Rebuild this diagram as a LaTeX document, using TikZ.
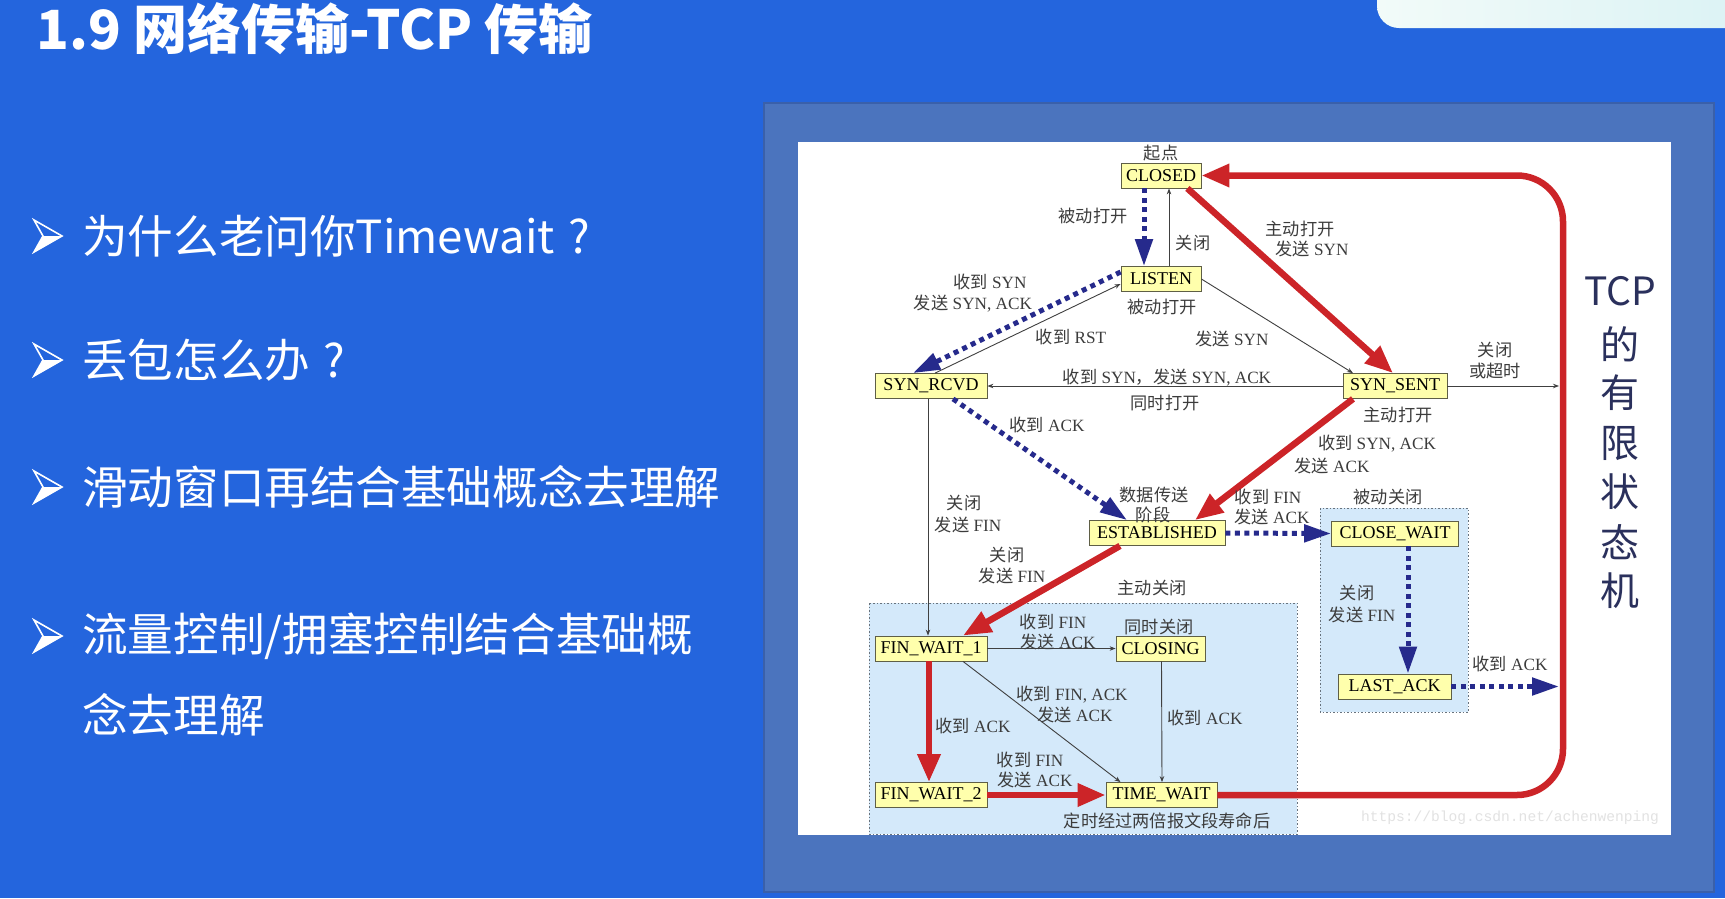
\documentclass[tikz,border=0pt]{standalone}
\usepackage{fontspec}
\setmainfont{Liberation Serif}
\newfontfamily\cjk{Noto Sans CJK SC}
\newfontfamily\wmfont{Liberation Mono}
\usetikzlibrary{arrows.meta,calc}
\newcommand\zh[1]{{\cjk #1}}

\definecolor{slideblue}{RGB}{36,101,221}
\definecolor{panelblue}{RGB}{75,116,190}
\definecolor{paneledge}{RGB}{58,96,170}
\definecolor{tabwhite}{RGB}{242,251,249}
\definecolor{tabcyan}{RGB}{218,242,244}
\definecolor{statefill}{RGB}{255,255,172}
\definecolor{stateedge}{RGB}{95,95,70}
\definecolor{zonefill}{RGB}{212,233,250}
\definecolor{zoneedge}{RGB}{105,115,125}
\definecolor{navy}{RGB}{38,42,140}
\definecolor{tcpred}{RGB}{204,36,40}
\definecolor{labelgrey}{RGB}{60,60,60}
\definecolor{titlenavy}{RGB}{42,48,92}
\definecolor{wmgrey}{RGB}{226,226,226}

\tikzset{
  state/.style={draw=stateedge, line width=0.8pt, fill=statefill, inner sep=0pt,
    minimum height=25pt, font=\fontsize{18}{18}\selectfont, text=black},
  lbl/.style={font=\fontsize{17.2}{19}\selectfont, text=labelgrey, inner sep=0pt},
  thinarrow/.style={draw=black!75, line width=0.9pt, -{Stealth[length=6pt,width=4.5pt]}},
  dotarrow/.style={draw=navy, line width=5pt, dash pattern=on 5pt off 4.5pt,
    -{Triangle[length=27pt,width=17pt]}},
  redarrow/.style={draw=tcpred, line width=6.5pt, -{Triangle[length=28pt,width=22pt]}},
  zone/.style={draw=zoneedge, fill=zonefill, line width=0.9pt, dash pattern=on 1.5pt off 2pt},
  bullettext/.style={anchor=west, text=white, inner sep=0pt,
    font=\cjk\fontsize{45.6}{50}\selectfont},
  vchar/.style={text=titlenavy, inner sep=0pt, font=\cjk\fontsize{39}{40}\selectfont},
  bulletmark/.pic={
    \draw[white, line width=1.6pt, line join=miter] (0,-16) -- (28,0) -- (0,16) -- (9,0) -- cycle;
    \fill[white] (9,0) -- (28,0) -- (0,16) -- cycle;
  }
}

\begin{document}
\begin{tikzpicture}[x=1pt,y=-1pt]
\useasboundingbox (0,0) rectangle (1725,898);
\fill[slideblue] (0,0) rectangle (1725,898);

% tab in the top right corner
\shade[left color=tabwhite, right color=tabcyan, rounded corners=22pt] (1377,-40) rectangle (1765,28);

% slide title
\node[anchor=west, text=white, inner sep=0pt, font=\cjk\bfseries\fontsize{54}{54}\selectfont]
  (title) at (36,29) {1.9 网络传输-TCP 传输};

% bullet list
\pic at (34,236) {bulletmark};
\node[bullettext] (b1) at (82,236) {为什么老问你Timewait\hspace{0.3em}?};
\pic at (34,360) {bulletmark};
\node[bullettext] (b2) at (82,360) {丢包怎么办\hspace{0.3em}?};
\pic at (34,487) {bulletmark};
\node[bullettext] (b3) at (82,487) {滑动窗口再结合基础概念去理解};
\pic at (34,636) {bulletmark};
\node[bullettext] (b4) at (82,636) {流量控制/拥塞控制结合基础概};
\node[bullettext] (b5) at (82,715) {念去理解};

% framed picture of the TCP state machine
\fill[panelblue] (764,103) rectangle (1714,892);
\draw[paneledge, line width=1.5pt] (764,103) rectangle (1714,892);
\fill[white] (798,142) rectangle (1671,835);

% shaded zones: active and passive close
\draw[zone] (869,603) rectangle (1297,834);
\draw[zone] (1320,508) rectangle (1468,712);

% states
\node[state, minimum width=80pt]  (closed)      at (1161,175.5) {CLOSED};
\node[state, minimum width=80pt]  (listen)      at (1161,279)   {LISTEN};
\node[state, minimum width=112pt] (synrcvd)     at (931,386)    {SYN\_RCVD};
\node[state, minimum width=104pt] (synsent)     at (1395,386)   {SYN\_SENT};
\node[state, minimum width=136pt] (established) at (1157,533)   {ESTABLISHED};
\node[state, minimum width=127pt] (closewait)   at (1395,533.5) {CLOSE\_WAIT};
\node[state, minimum width=113pt] (lastack)     at (1394.5,686.5) {LAST\_ACK};
\node[state, minimum width=112pt] (finwait1)    at (931,648.5)  {FIN\_WAIT\_1};
\node[state, minimum width=89pt]  (closing)     at (1160.5,648.5) {CLOSING};
\node[state, minimum width=112pt] (finwait2)    at (931,795)    {FIN\_WAIT\_2};
\node[state, minimum width=111pt] (timewait)    at (1161.5,795) {TIME\_WAIT};

% free ends on the red return path
\coordinate (exitA) at (1559,386);
\coordinate (exitB) at (1559,686.5);
\coordinate (loopB) at (1563,795);
\coordinate (loopT) at (1563,175.5);

% transitions
\draw[thinarrow] ([xshift=8pt]listen.north) -- ([xshift=8pt]closed.south);
\draw[thinarrow] ([xshift=4pt]synrcvd.north) -- ([yshift=-5pt]listen.west);
\draw[thinarrow] (listen.east) -- ([xshift=-42pt]synsent.north);
\draw[thinarrow] (synsent.west) -- (synrcvd.east);
\draw[thinarrow] (synsent.east) -- (exitA);
\draw[thinarrow] ([xshift=-3pt]synrcvd.south) -- ([xshift=-3pt]finwait1.north);
\draw[thinarrow] (finwait1.east) -- (closing.west);
\draw[thinarrow] ([xshift=32pt]finwait1.south) -- ([xshift=-41pt]timewait.north);
\draw[thinarrow] ([xshift=1pt]closing.south) -- ([xshift=0.5pt]timewait.north);

\draw[dotarrow] ([xshift=-17pt]closed.south) -- ([xshift=-17pt]listen.north);
\draw[dotarrow] ([yshift=7pt]listen.west) -- ([xshift=-18pt]synrcvd.north);
\draw[dotarrow] ([xshift=22pt]synrcvd.south) -- ([xshift=-30pt]established.north);
\draw[dotarrow] (established.east) -- (closewait.west);
\draw[dotarrow] ([xshift=13pt]closewait.south) -- ([xshift=13.5pt]lastack.north);
\draw[dotarrow] (lastack.east) -- (exitB);

\draw[redarrow] ([xshift=-14pt]closed.south east) -- ([xshift=-2pt]synsent.north);
\draw[redarrow] ([xshift=-42pt]synsent.south) -- ([xshift=38pt]established.north);
\draw[redarrow] ([xshift=-37pt]established.south) -- ([xshift=32pt]finwait1.north);
\draw[redarrow] ([xshift=-2pt]finwait1.south) -- ([xshift=-2pt]finwait2.north);
\draw[redarrow] (finwait2.east) -- (timewait.west);
\draw[redarrow, rounded corners=46pt] (timewait.east) -- (loopB) -- (loopT) -- (closed.east);

% transition labels
\node[lbl] at (1161,153) {\zh{起点}};
\node[lbl] at (1093,216) {\zh{被动打开}};
\node[lbl] at (1193,243) {\zh{关闭}};
\node[lbl] at (1300,229) {\zh{主动打开}};
\node[lbl] at (1312,249) {\zh{发送} SYN};
\node[lbl] at (990,282)  {\zh{收到} SYN};
\node[lbl] at (973,304)  {\zh{发送} SYN, ACK};
\node[lbl] at (1162,307) {\zh{被动打开}};
\node[lbl] at (1071,337) {\zh{收到} RST};
\node[lbl] at (1232,339) {\zh{发送} SYN};
\node[lbl] at (1167,378) {\zh{收到} SYN\zh{，发送} SYN, ACK};
\node[lbl] at (1165,403) {\zh{同时打开}};
\node[lbl] at (1495,350) {\zh{关闭}};
\node[lbl] at (1495,371) {\zh{或超时}};
\node[lbl] at (1398,415) {\zh{主动打开}};
\node[lbl] at (1047,425) {\zh{收到} ACK};
\node[lbl] at (1377,444) {\zh{收到} SYN, ACK};
\node[lbl] at (1332,466) {\zh{发送} ACK};
\node[lbl] at (1154,495) {\zh{数据传送}};
\node[lbl] at (1153,515) {\zh{阶段}};
\node[lbl] at (1268,497) {\zh{收到} FIN};
\node[lbl] at (1272,517) {\zh{发送} ACK};
\node[lbl] at (1388,497) {\zh{被动关闭}};
\node[lbl] at (964,503)  {\zh{关闭}};
\node[lbl] at (968,525)  {\zh{发送} FIN};
\node[lbl] at (1007,555) {\zh{关闭}};
\node[lbl] at (1012,576) {\zh{发送} FIN};
\node[lbl] at (1152,588) {\zh{主动关闭}};
\node[lbl] at (1053,622) {\zh{收到} FIN};
\node[lbl] at (1058,642) {\zh{发送} ACK};
\node[lbl] at (1159,627) {\zh{同时关闭}};
\node[lbl] at (1357,593) {\zh{关闭}};
\node[lbl] at (1362,615) {\zh{发送} FIN};
\node[lbl] at (1510,664) {\zh{收到} ACK};
\node[lbl] at (1072,695) {\zh{收到} FIN, ACK};
\node[lbl] at (1075,715) {\zh{发送} ACK};
\node[lbl] at (973,726)  {\zh{收到} ACK};
\node[lbl] at (1205,718) {\zh{收到} ACK};
\node[lbl] at (1030,760) {\zh{收到} FIN};
\node[lbl] at (1035,780) {\zh{发送} ACK};
\node[lbl] at (1167,821) {\zh{定时经过两倍报文段寿命后}};

% watermark
\node[text=wmgrey, inner sep=0pt, font=\wmfont\fontsize{14.6}{15}\selectfont]
  (wm) at (1510,818) {https://blog.csdn.net/achenwenping};

% vertical caption
\node[vchar] (v0) at (1620,291) {TCP};
\node[vchar] (v1) at (1620,344) {的};
\node[vchar] (v2) at (1620,393) {有};
\node[vchar] (v3) at (1620,443) {限};
\node[vchar] (v4) at (1620,492) {状};
\node[vchar] (v5) at (1620,542) {态};
\node[vchar] (v6) at (1620,591) {机};
\end{tikzpicture}
\end{document}
